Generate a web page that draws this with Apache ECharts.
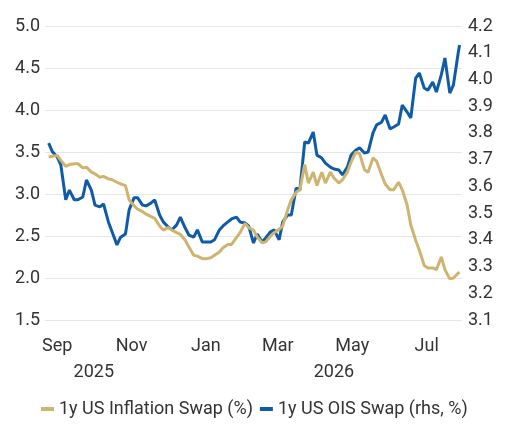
<!DOCTYPE html>
<html>
<head>
<meta charset="utf-8">
<title>1y US Inflation Swap vs 1y US OIS Swap</title>
<script src="https://cdn.jsdelivr.net/npm/echarts@6.0.0/dist/echarts.min.js"></script>
<style>
    html, body { margin: 0; padding: 0; background: #fff; }
    #eCharts { width: 525px; height: 427px; }
</style>
</head>
<body>
<div id="eCharts"></div>
<script>
// 日期（每周一、周四取样）
var dates = [
    '2025-08-25', '2025-08-28', '2025-09-01', '2025-09-04', '2025-09-08', '2025-09-11', '2025-09-15', '2025-09-18',
    '2025-09-22', '2025-09-25', '2025-09-29', '2025-10-02', '2025-10-06', '2025-10-09', '2025-10-13', '2025-10-16',
    '2025-10-20', '2025-10-23', '2025-10-27', '2025-10-30', '2025-11-03', '2025-11-06', '2025-11-10', '2025-11-13',
    '2025-11-17', '2025-11-20', '2025-11-24', '2025-11-27', '2025-12-01', '2025-12-04', '2025-12-08', '2025-12-11',
    '2025-12-15', '2025-12-18', '2025-12-22', '2025-12-25', '2025-12-29', '2026-01-01', '2026-01-05', '2026-01-08',
    '2026-01-12', '2026-01-15', '2026-01-19', '2026-01-22', '2026-01-26', '2026-01-29', '2026-02-02', '2026-02-05',
    '2026-02-09', '2026-02-12', '2026-02-16', '2026-02-19', '2026-02-23', '2026-02-26', '2026-03-02', '2026-03-05',
    '2026-03-09', '2026-03-12', '2026-03-16', '2026-03-19', '2026-03-23', '2026-03-26', '2026-03-30', '2026-04-02',
    '2026-04-06', '2026-04-09', '2026-04-13', '2026-04-16', '2026-04-20', '2026-04-23', '2026-04-27', '2026-04-30',
    '2026-05-04', '2026-05-07', '2026-05-11', '2026-05-14', '2026-05-18', '2026-05-21', '2026-05-25', '2026-05-28',
    '2026-06-01', '2026-06-04', '2026-06-08', '2026-06-11', '2026-06-15', '2026-06-18', '2026-06-22', '2026-06-25',
    '2026-06-29', '2026-07-02', '2026-07-06', '2026-07-09', '2026-07-13', '2026-07-16', '2026-07-20', '2026-07-23',
    '2026-07-27', '2026-07-28'
];

// 1y US Inflation Swap (%) - 左轴
var inflationSwap = [
    3.44, 3.45, 3.46, 3.40, 3.33, 3.35, 3.36, 3.36,
    3.31, 3.32, 3.26, 3.24, 3.20, 3.21, 3.18, 3.17,
    3.14, 3.12, 3.10, 2.93, 2.86, 2.82, 2.79, 2.76,
    2.73, 2.71, 2.62, 2.57, 2.60, 2.57, 2.54, 2.52,
    2.45, 2.37, 2.27, 2.26, 2.23, 2.23, 2.24, 2.27,
    2.31, 2.36, 2.40, 2.40, 2.48, 2.54, 2.65, 2.60,
    2.57, 2.49, 2.42, 2.43, 2.50, 2.54, 2.58, 2.62,
    2.81, 2.93, 3.02, 3.05, 3.35, 3.13, 3.26, 3.10,
    3.26, 3.13, 3.26, 3.19, 3.13, 3.17, 3.26, 3.38,
    3.50, 3.48, 3.29, 3.26, 3.43, 3.39, 3.23, 3.12,
    3.05, 3.05, 3.14, 3.05, 2.87, 2.63, 2.45, 2.33,
    2.15, 2.12, 2.12, 2.10, 2.25, 2.10, 1.99, 2.00,
    2.06, 2.07
];

// 1y US OIS Swap (rhs, %) - 右轴
var oisSwap = [
    3.762, 3.73, 3.71, 3.68, 3.55, 3.586, 3.55, 3.55,
    3.56, 3.624, 3.586, 3.53, 3.523, 3.534, 3.467, 3.43,
    3.381, 3.41, 3.422, 3.512, 3.557, 3.557, 3.53, 3.527,
    3.538, 3.549, 3.493, 3.467, 3.448, 3.437, 3.456, 3.485,
    3.444, 3.418, 3.41, 3.437, 3.392, 3.392, 3.392, 3.40,
    3.437, 3.452, 3.467, 3.478, 3.485, 3.467, 3.463, 3.452,
    3.388, 3.422, 3.392, 3.407, 3.43, 3.437, 3.40, 3.467,
    3.493, 3.493, 3.594, 3.586, 3.766, 3.762, 3.803, 3.717,
    3.706, 3.687, 3.672, 3.665, 3.661, 3.643, 3.672, 3.717,
    3.736, 3.744, 3.725, 3.728, 3.80, 3.83, 3.84, 3.867,
    3.815, 3.822, 3.833, 3.904, 3.878, 3.856, 4.005, 4.024,
    3.968, 3.96, 3.99, 3.953, 4.017, 4.08, 3.949, 3.98,
    4.103, 4.129
];

var monthTicks = ['2025-09-01', '2025-11-01', '2026-01-01', '2026-03-01', '2026-05-01', '2026-07-01'];
var monthNames = ['Jan', 'Feb', 'Mar', 'Apr', 'May', 'Jun', 'Jul', 'Aug', 'Sep', 'Oct', 'Nov', 'Dec'];
var yearTicks = ['2025-10-01', '2026-04-16'];
var dateRange = ['2025-08-22', '2026-07-30'];

var seriesNames = ['1y US Inflation Swap (%)', '1y US OIS Swap (rhs, %)'];
var colors = ['#cdb56f', '#0f5ba8'];

function ts(d) {
    return new Date(d + 'T00:00:00Z').getTime();
}

function pairs(vals) {
    return dates.map(function (d, i) { return [ts(d), vals[i]]; });
}

var myChart = echarts.init(document.getElementById('eCharts'));
var font = 'Roboto';
var fontSize = 18;

function dateAxis(ticks, offset, fmt) {
    return {
        type: 'value',
        position: 'bottom',
        offset: offset,
        min: ts(dateRange[0]),
        max: ts(dateRange[1]),
        axisLine: {show: false},
        axisTick: {show: false},
        splitLine: {show: false},
        axisLabel: {
            customValues: ticks.map(ts),
            margin: 17,
            fontSize: fontSize,
            color: '#333',
            formatter: fmt
        }
    };
}

var option = {
    animation: false,
    textStyle: {fontFamily: font},
    grid: {left: 45, right: 63, top: 26, bottom: 107, containLabel: false},
    legend: {
        data: seriesNames,
        left: 36,
        top: 395,
        icon: 'rect',
        itemWidth: 13,
        itemHeight: 4,
        itemGap: 7,
        textStyle: {fontFamily: font, fontSize: fontSize, color: '#333'}
    },
    xAxis: [
        dateAxis(monthTicks, 0, function (v) { return monthNames[new Date(v).getUTCMonth()]; }),
        dateAxis(yearTicks, 26, function (v) { return String(new Date(v).getUTCFullYear()); })
    ],
    yAxis: [{
        type: 'value',
        min: 1.5,
        max: 5.0,
        interval: 0.5,
        axisLine: {show: false},
        axisTick: {show: false},
        splitLine: {lineStyle: {color: '#e6e6e6', width: 1}},
        axisLabel: {
            margin: 5,
            fontSize: fontSize,
            color: '#333',
            formatter: function (v) { return v.toFixed(1); }
        }
    }, {
        type: 'value',
        min: 3.1,
        max: 4.2,
        interval: 0.1,
        axisLine: {show: false},
        axisTick: {show: false},
        splitLine: {show: false},
        axisLabel: {
            margin: 6,
            fontSize: fontSize,
            color: '#333',
            formatter: function (v) { return v.toFixed(1); }
        }
    }],
    series: [{
        name: seriesNames[1],
        type: 'line',
        yAxisIndex: 1,
        data: pairs(oisSwap),
        showSymbol: false,
        color: colors[1],
        lineStyle: {width: 3, color: colors[1]}
    }, {
        name: seriesNames[0],
        type: 'line',
        yAxisIndex: 0,
        data: pairs(inflationSwap),
        showSymbol: false,
        color: colors[0],
        lineStyle: {width: 3, color: colors[0]}
    }]
};

myChart.setOption(option);
</script>
</body>
</html>
